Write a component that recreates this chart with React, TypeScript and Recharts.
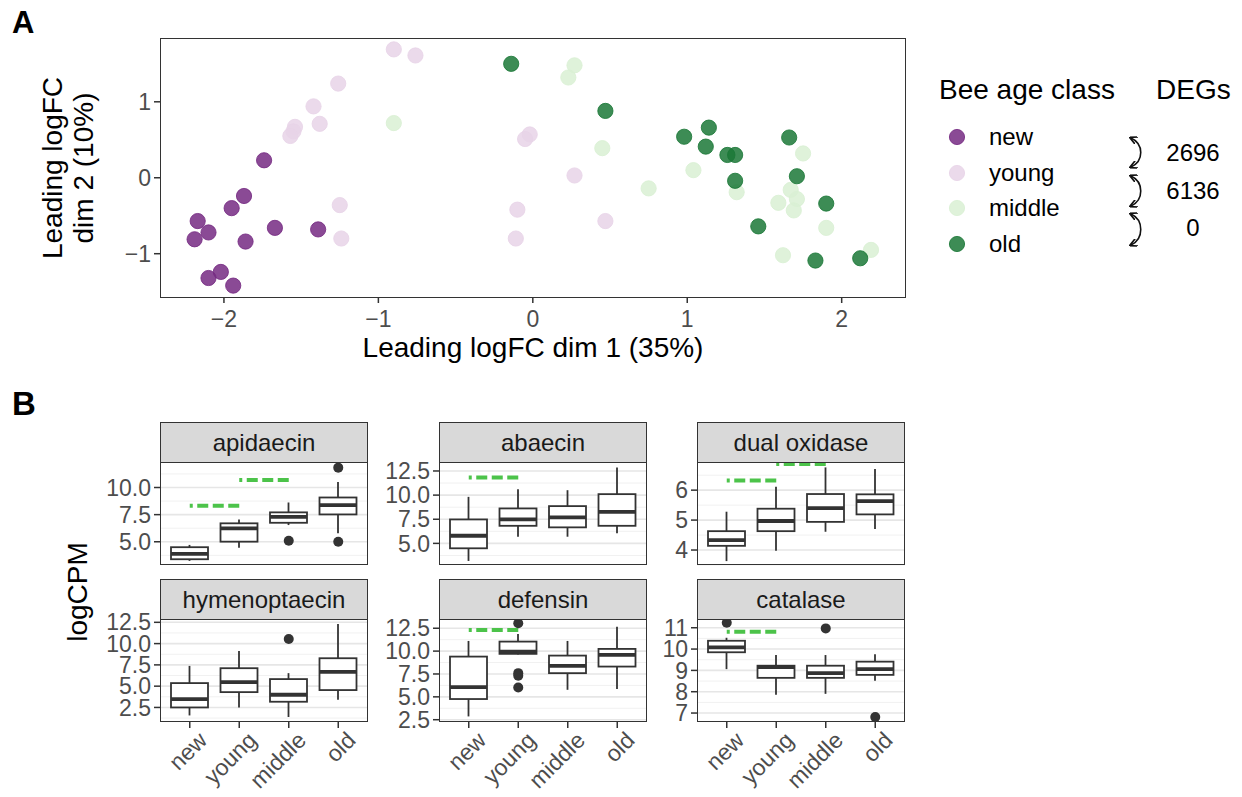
import React from 'react'
import {
  Bar,
  CartesianGrid,
  ComposedChart,
  ReferenceLine,
  Scatter,
  ScatterChart,
  XAxis,
  YAxis,
} from 'recharts'

const FONT = '"Liberation Sans", Arial, Helvetica, sans-serif'
const TICK_GREY = '#4d4d4d'
const LINE = '#333333'
const SIG_GREEN = '#4cc34a'

const AGE_CLASSES = ['new', 'young', 'middle', 'old']
const AGE_COLORS = ['#762a83', '#e7d4e8', '#d9f0d3', '#1b7837']
const DEG_COUNTS = ['2696', '6136', '0']

// Panel A: leading logFC (dim 1, dim 2) per sample
const mdsNew = [
  [-1.74, 0.23], [-1.87, -0.24], [-1.95, -0.4], [-2.17, -0.57], [-2.1, -0.72], [-2.19, -0.81],
  [-1.86, -0.84], [-1.67, -0.66], [-1.39, -0.68], [-2.02, -1.24], [-2.1, -1.32], [-1.94, -1.42],
]
const mdsYoung = [
  [-0.9, 1.69], [-0.76, 1.61], [-1.26, 1.24], [-1.42, 0.94], [-1.38, 0.71], [-1.54, 0.67],
  [-1.55, 0.61], [-1.57, 0.55], [-1.25, -0.36], [-1.24, -0.8], [-0.02, 0.57], [-0.05, 0.51],
  [0.27, 0.03], [-0.1, -0.42], [-0.11, -0.8], [0.47, -0.57],
]
const mdsMiddle = [
  [-0.9, 0.72], [0.27, 1.48], [0.23, 1.32], [0.45, 0.39], [0.75, -0.14], [1.04, 0.1],
  [1.32, -0.19], [1.75, 0.32], [1.67, -0.16], [1.71, -0.28], [1.59, -0.33], [1.69, -0.43],
  [1.9, -0.66], [1.62, -1.02], [2.19, -0.95],
]
const mdsOld = [
  [-0.14, 1.5], [0.47, 0.88], [0.98, 0.54], [1.14, 0.66], [1.12, 0.41], [1.26, 0.3],
  [1.31, 0.3], [1.31, -0.04], [1.66, 0.53], [1.71, 0.02], [1.9, -0.34], [1.46, -0.64],
  [1.83, -1.09], [2.12, -1.06],
]
const MDS_GROUPS = [mdsNew, mdsYoung, mdsMiddle, mdsOld]
const MDS_X_TICKS = [-2, -1, 0, 1, 2]
const MDS_Y_TICKS = [-1, 0, 1]

// Panel B: [lower whisker, Q1, median, Q3, upper whisker] per age class
const apidaecinBox = [[3.24, 3.39, 3.88, 4.5, 4.71], [4.46, 5.01, 6.24, 6.7, 7.06], [6.54, 6.75, 7.3, 7.71, 8.62], [5.78, 7.52, 8.38, 9.08, 10.51]]
const abaecinBox = [[3.18, 4.49, 5.79, 7.48, 9.82], [5.69, 6.82, 7.48, 8.62, 10.61], [5.69, 6.66, 7.69, 8.86, 10.51], [6.04, 6.82, 8.27, 10.1, 12.85]]
const duoxBox = [[3.63, 4.14, 4.33, 4.63, 5.28], [3.98, 4.63, 4.97, 5.38, 6.11], [4.61, 4.94, 5.4, 5.87, 6.76], [4.7, 5.19, 5.63, 5.86, 6.71]]
const hymenoptaecinBox = [[1.56, 2.5, 3.48, 5.36, 7.38], [2.5, 4.3, 5.47, 7.11, 9.14], [1.38, 3.17, 3.99, 5.83, 6.53], [3.4, 4.54, 6.68, 8.28, 12.3]]
const defensinBox = [[2.86, 4.76, 6.07, 9.4, 11.11], [9.62, 9.7, 9.95, 11.04, 11.88], [5.77, 7.59, 8.39, 9.51, 11.11], [5.85, 8.31, 9.59, 10.24, 12.67]]
const catalaseBox = [[9.06, 9.85, 10.08, 10.39, 10.53], [7.86, 8.65, 9.15, 9.22, 9.72], [7.9, 8.65, 8.87, 9.22, 9.72], [8.52, 8.79, 9.06, 9.41, 9.76]]

const apidaecinOut = [[], [], [5.1], [11.83, 5.0]]
const abaecinOut = [[], [], [], []]
const duoxOut = [[], [], [], []]
const hymenoptaecinOut = [[], [], [10.54], []]
const defensinOut = [[], [13.05, 7.59, 7.3, 6.02], [], []]
const catalaseOut = [[11.23], [], [10.97], [6.81]]

// significant pairwise contrasts: [from class, to class, height]
const apidaecinSig = [[0, 1, 8.31], [1, 2, 10.7]]
const abaecinSig = [[0, 1, 11.82]]
const duoxSig = [[0, 1, 6.32], [1, 2, 6.87]]
const hymenoptaecinSig: number[][] = []
const defensinSig = [[0, 1, 12.31]]
const catalaseSig = [[0, 1, 10.81]]

const FACETS = [
  { name: 'apidaecin', box: apidaecinBox, out: apidaecinOut, sig: apidaecinSig, domain: [2.86, 12.35], ticks: [5, 7.5, 10], minor: [3.75, 6.25, 8.75, 11.25], digits: 1 },
  { name: 'abaecin', box: abaecinBox, out: abaecinOut, sig: abaecinSig, domain: [2.76, 13.43], ticks: [5, 7.5, 10, 12.5], minor: [3.75, 6.25, 8.75, 11.25], digits: 1 },
  { name: 'dual oxidase', box: duoxBox, out: duoxOut, sig: duoxSig, domain: [3.5, 6.94], ticks: [4, 5, 6], minor: [3.5, 4.5, 5.5, 6.5], digits: 0 },
  { name: 'hymenoptaecin', box: hymenoptaecinBox, out: hymenoptaecinOut, sig: hymenoptaecinSig, domain: [0.79, 12.89], ticks: [2.5, 5, 7.5, 10, 12.5], minor: [1.25, 3.75, 6.25, 8.75, 11.25], digits: 1 },
  { name: 'defensin', box: defensinBox, out: defensinOut, sig: defensinSig, domain: [2.25, 13.51], ticks: [2.5, 5, 7.5, 10, 12.5], minor: [3.75, 6.25, 8.75, 11.25], digits: 1 },
  { name: 'catalase', box: catalaseBox, out: catalaseOut, sig: catalaseSig, domain: [6.58, 11.41], ticks: [7, 8, 9, 10, 11], minor: [7.5, 8.5, 9.5, 10.5], digits: 0 },
]

// facet grid geometry
const COL_LEFT = [160, 439, 697]
const ROW_TOP = [462, 619]
const PW = 208
const PH = 103
const STRIP_H = 40
const Y_AXIS_W = 70
const X_AXIS_H = 80
const PAD = 16 // room so edge tick labels are not clipped

const minus = (v: number) => (v < 0 ? `\u2212${Math.abs(v)}` : `${v}`)

const abs = (left: number, top: number, extra: React.CSSProperties = {}): React.CSSProperties => ({
  position: 'absolute',
  left,
  top,
  ...extra,
})

function BoxShape(props: any) {
  const { x, y, width, height, payload } = props
  if (!payload || height == null) return <g />
  const { lo, q1, med, q3, hi } = payload
  const top = Math.min(y, y + height)
  const bottom = Math.max(y, y + height)
  const toPx = (v: number) => top + ((hi - v) / (hi - lo)) * (bottom - top)
  const cx = x + width / 2
  return (
    <g stroke={LINE}>
      <line x1={cx} x2={cx} y1={toPx(hi)} y2={toPx(q3)} strokeWidth={1.8} />
      <line x1={cx} x2={cx} y1={toPx(q1)} y2={toPx(lo)} strokeWidth={1.8} />
      <rect x={x} y={toPx(q3)} width={width} height={toPx(q1) - toPx(q3)} fill="#ffffff" strokeWidth={1.8} />
      <line x1={x} x2={x + width} y1={toPx(med)} y2={toPx(med)} strokeWidth={3.8} />
    </g>
  )
}

function RotatedTick(props: any) {
  const { x, y, payload } = props
  return (
    <g transform={`translate(${x + 7},${y}) rotate(-45)`}>
      <text textAnchor="end" dy="0.72em" fontSize={23} fill={TICK_GREY} fontFamily={FONT}>
        {payload.value}
      </text>
    </g>
  )
}

function Facet({ f, idx }: { f: (typeof FACETS)[number]; idx: number }) {
  const col = idx % 3
  const row = Math.floor(idx / 3)
  const left = COL_LEFT[col]
  const top = ROW_TOP[row]
  const bottomRow = row === 1
  const rows = AGE_CLASSES.map((cls, i) => {
    const [lo, q1, med, q3, hi] = f.box[i]
    const r: Record<string, unknown> = { cls, lo, q1, med, q3, hi, range: [lo, hi] }
    f.out[i].forEach((v, k) => {
      r[`o${k}`] = v
    })
    return r
  })
  return (
    <>
      <div
        style={abs(left, top - STRIP_H, {
          width: PW,
          height: STRIP_H + 1,
          boxSizing: 'border-box',
          background: '#d9d9d9',
          border: `1px solid ${LINE}`,
          display: 'flex',
          alignItems: 'center',
          justifyContent: 'center',
          fontSize: 24,
          color: '#1a1a1a',
        })}
      >
        {f.name}
      </div>
      <div style={abs(left - Y_AXIS_W, top - PAD)}>
        <ComposedChart
          width={Y_AXIS_W + PW}
          height={PAD + PH + (bottomRow ? X_AXIS_H : PAD)}
          data={rows}
          margin={{ top: PAD, right: 0, bottom: bottomRow ? 0 : PAD, left: 0 }}
        >
          <CartesianGrid vertical={false} horizontalValues={f.minor} stroke="#f1f1f1" strokeWidth={1} />
          <CartesianGrid vertical={false} horizontalValues={f.ticks} stroke="#e6e6e6" strokeWidth={1.6} />
          <XAxis
            dataKey="cls"
            type="category"
            hide={!bottomRow}
            height={bottomRow ? X_AXIS_H : 0}
            padding={{ left: 5, right: 5 }}
            interval={0}
            tick={<RotatedTick />}
            tickLine={{ stroke: LINE, strokeWidth: 1.5 }}
            tickSize={6}
            tickMargin={2}
            axisLine={false}
          />
          <YAxis
            type="number"
            domain={f.domain}
            allowDataOverflow
            ticks={f.ticks}
            interval={0}
            width={Y_AXIS_W}
            tickFormatter={(v: number) => v.toFixed(f.digits)}
            tick={{ fontSize: 23, fill: TICK_GREY, fontFamily: FONT }}
            tickLine={{ stroke: LINE, strokeWidth: 1.5 }}
            tickSize={6}
            tickMargin={3}
            axisLine={false}
          />
          <Bar dataKey="range" barSize={37} shape={BoxShape} isAnimationActive={false} />
          {[0, 1, 2, 3].map((k) => (
            <Scatter
              key={k}
              dataKey={`o${k}`}
              isAnimationActive={false}
              shape={(p: any) =>
                p.payload && p.payload[`o${k}`] != null ? (
                  <circle cx={p.cx} cy={p.cy} r={5} fill={LINE} />
                ) : (
                  <g />
                )
              }
            />
          ))}
          {f.sig.map(([from, to, yv], i) => (
            <ReferenceLine
              key={i}
              segment={[
                { x: AGE_CLASSES[to], y: yv },
                { x: AGE_CLASSES[from], y: yv },
              ]}
              stroke={SIG_GREEN}
              strokeWidth={4}
              strokeDasharray="11 4.5"
              ifOverflow="visible"
            />
          ))}
        </ComposedChart>
      </div>
      <div
        style={abs(left, top, {
          width: PW,
          height: PH,
          boxSizing: 'border-box',
          border: `1px solid ${LINE}`,
          pointerEvents: 'none',
        })}
      />
    </>
  )
}

function DegArrow({ y0, y1 }: { y0: number; y1: number }) {
  return (
    <path
      d={`M 3 ${y0} C 16 ${y0 + 6}, 16 ${y1 - 6}, 3 ${y1}`}
      fill="none"
      stroke="#111"
      strokeWidth={1.6}
      markerStart="url(#arrowhead)"
      markerEnd="url(#arrowhead)"
    />
  )
}

export default function App() {
  return (
    <div style={abs(0, 0, { width: 1242, height: 797, background: '#fff', fontFamily: FONT, overflow: 'hidden' })}>
      {/* panel letters */}
      <div style={abs(12, 5, { fontSize: 31, fontWeight: 'bold' })}>A</div>
      <div style={abs(12, 385, { fontSize: 33, fontWeight: 'bold' })}>B</div>

      {/* Panel A: MDS plot */}
      <div style={abs(0, 0)}>
        <ScatterChart width={920} height={340} margin={{ top: 38, right: 15, bottom: 13, left: 100 }}>
          <XAxis
            type="number"
            dataKey="x"
            domain={[-2.414, 2.41]}
            allowDataOverflow
            ticks={MDS_X_TICKS}
            interval={0}
            height={30}
            tickFormatter={minus}
            tick={{ fontSize: 23, fill: TICK_GREY, fontFamily: FONT }}
            tickLine={{ stroke: LINE, strokeWidth: 1.5 }}
            tickSize={6}
            tickMargin={8}
            axisLine={false}
          />
          <YAxis
            type="number"
            dataKey="y"
            domain={[-1.57, 1.84]}
            allowDataOverflow
            ticks={MDS_Y_TICKS}
            interval={0}
            width={60}
            tickFormatter={minus}
            tick={{ fontSize: 23, fill: TICK_GREY, fontFamily: FONT }}
            tickLine={{ stroke: LINE, strokeWidth: 1.5 }}
            tickSize={6}
            tickMargin={3}
            axisLine={false}
          />
          {MDS_GROUPS.map((pts, g) => (
            <Scatter
              key={AGE_CLASSES[g]}
              name={AGE_CLASSES[g]}
              data={pts.map(([x, y]) => ({ x, y }))}
              isAnimationActive={false}
              shape={(p: any) => (
                <circle
                  cx={p.cx}
                  cy={p.cy}
                  r={7.6}
                  fill={AGE_COLORS[g]}
                  fillOpacity={0.85}
                  stroke={AGE_COLORS[g]}
                  strokeOpacity={0.85}
                  strokeWidth={1}
                />
              )}
            />
          ))}
        </ScatterChart>
      </div>
      <div
        style={abs(160, 38, {
          width: 746,
          height: 260,
          boxSizing: 'border-box',
          border: `1px solid ${LINE}`,
          pointerEvents: 'none',
        })}
      />
      <div style={abs(533, 348, { transform: 'translate(-50%, -50%)', fontSize: 28, whiteSpace: 'nowrap' })}>
        Leading logFC dim 1 (35%)
      </div>
      <div
        style={abs(68, 168, {
          transform: 'translate(-50%, -50%) rotate(-90deg)',
          fontSize: 28,
          lineHeight: '31px',
          textAlign: 'center',
          whiteSpace: 'nowrap',
        })}
      >
        Leading logFC
        <br />
        dim 2 (10%)
      </div>

      {/* Panel A legend */}
      <div style={abs(939, 74, { fontSize: 28, whiteSpace: 'nowrap' })}>Bee age class</div>
      <div style={abs(1156, 74, { fontSize: 28, whiteSpace: 'nowrap' })}>DEGs</div>
      {AGE_CLASSES.map((cls, i) => (
        <React.Fragment key={cls}>
          <svg style={abs(948, 128 + i * 35.5)} width={18} height={18}>
            <circle cx={9} cy={9} r={7.6} fill={AGE_COLORS[i]} fillOpacity={0.85} stroke={AGE_COLORS[i]} strokeOpacity={0.85} />
          </svg>
          <div style={abs(989, 137 + i * 35.5, { transform: 'translateY(-50%)', fontSize: 24 })}>{cls}</div>
        </React.Fragment>
      ))}
      <svg style={abs(1128, 130)} width={24} height={120}>
        <defs>
          <marker id="arrowhead" viewBox="0 0 10 10" refX="8" refY="5" markerWidth="5" markerHeight="5" orient="auto-start-reverse">
            <path d="M 0 0 L 10 5 L 0 10" fill="none" stroke="#111" strokeWidth={2} />
          </marker>
        </defs>
        <DegArrow y0={8} y1={37} />
        <DegArrow y0={46} y1={76} />
        <DegArrow y0={84} y1={115} />
      </svg>
      {DEG_COUNTS.map((n, i) => (
        <div key={n} style={abs(1193, 153 + i * 37.5, { transform: 'translate(-50%, -50%)', fontSize: 24 })}>
          {n}
        </div>
      ))}

      {/* Panel B: boxplot facets */}
      {FACETS.map((f, i) => (
        <Facet key={f.name} f={f} idx={i} />
      ))}
      <div style={abs(78, 592, { transform: 'translate(-50%, -50%) rotate(-90deg)', fontSize: 28, whiteSpace: 'nowrap' })}>
        logCPM
      </div>
    </div>
  )
}
